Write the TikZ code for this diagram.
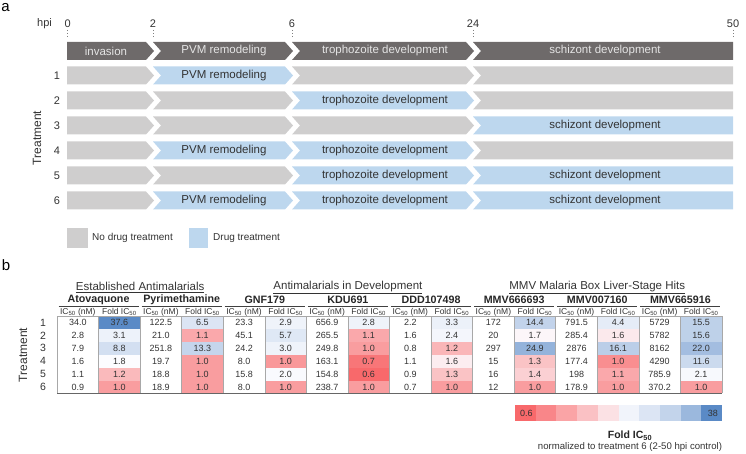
\documentclass[tikz,border=0pt]{standalone}
\usepackage{fontspec}
\setmainfont{Liberation Sans}
\definecolor{dk}{HTML}{6E6A6A}
\definecolor{lg}{HTML}{CFCECE}
\definecolor{lb}{HTML}{BDD7EE}
\definecolor{txt}{HTML}{333333}
\definecolor{cmin}{HTML}{F8696B}
\definecolor{cmid}{HTML}{FCFCFF}
\definecolor{cmax}{HTML}{5A8AC6}
\definecolor{gridc}{HTML}{A8A8A8}
\newcommand\chevF[4]{\fill[#4] (#1,{#3-9}) -- ({#2-7},{#3-9}) -- ({#2+1},#3) -- ({#2-7},{#3+9}) -- (#1,{#3+9}) -- cycle;}
\newcommand\chevM[4]{\fill[#4] (#1,{#3-9}) -- ({#2-7},{#3-9}) -- ({#2+1},#3) -- ({#2-7},{#3+9}) -- (#1,{#3+9}) -- ({#1+8},#3) -- cycle;}
\newcommand\chevL[4]{\fill[#4] (#1,{#3-9}) -- (#2,{#3-9}) -- (#2,{#3+9}) -- (#1,{#3+9}) -- ({#1+8},#3) -- cycle;}
\newcommand\colw{41.56}
\newcommand\rowh{12.9}
\newcommand\cmpdcol[2]{%
 \foreach \r/\ic/\fd/\s/\p in {#2}{%
   \pgfmathsetmacro\yt{316+(\r-1)*\rowh}%
   \pgfmathsetmacro\xa{57+(2*#1-2)*\colw}%
   \pgfmathsetmacro\xb{\xa+\colw}%
   \fill[\s!\p!cmid] (\xb,\yt) rectangle ++(\colw,\rowh);
   \node[num] (ic#1-\r) at ({\xa+\colw/2},{\yt+\rowh/2+0.3}) {\ic};
   \node[num] (fd#1-\r) at ({\xb+\colw/2},{\yt+\rowh/2+0.3}) {\fd};
 }}
\tikzset{
  tl/.style={font=\fontsize{11.5}{13}\selectfont, text=txt, inner sep=0pt},
  tlh/.style={tl, text=white!90!black},
  num/.style={font=\fontsize{9}{10}\selectfont, text=txt, inner sep=0pt},
  colhd/.style={font=\fontsize{8.5}{9}\selectfont, text=txt, inner sep=0pt},
  cmpd/.style={font=\bfseries\fontsize{10.7}{12}\selectfont, text=black!85, inner sep=0pt},
  grp/.style={font=\fontsize{11.5}{13}\selectfont, text=txt, inner sep=0pt},
  ticklbl/.style={font=\fontsize{11}{12}\selectfont, text=txt, inner sep=0pt},
  tickln/.style={draw=gray, dash pattern=on 1.5pt off 1.5pt, line width=0.7pt},
  panel/.style={font=\fontsize{15}{16}\selectfont, text=black, inner sep=0pt},
  legtxt/.style={font=\fontsize{10}{12}\selectfont, text=txt, inner sep=0pt, anchor=west},
  gridln/.style={draw=gridc, line width=0.6pt},
  ul/.style={draw=black!75, line width=0.8pt}
}
\begin{document}
\begin{tikzpicture}[x=1pt,y=-1pt]
\useasboundingbox (0,0) rectangle (746,454);
% ---------- panel a ----------
\node[panel] (pa) at (5.5,8) {a};
\node[ticklbl] (hpi) at (44.5,24) {hpi};
\node[ticklbl] (t0) at (67.7,24) {0};
\node[ticklbl] (t2) at (153,24) {2};
\node[ticklbl] (t6) at (292,24) {6};
\node[ticklbl] (t24) at (473,24) {24};
\node[ticklbl] (t50) at (733,24) {50};
\foreach \x in {67.7,153,292,473,733} \draw[tickln] (\x,30) -- (\x,38);
% header bar
\chevF{67}{153}{51}{dk}
\chevM{153}{292}{51}{dk}
\chevM{292}{473}{51}{dk}
\chevL{473}{733}{51}{dk}
\node[tlh] (h1) at (106,51) {invasion};
\node[tlh] (h2) at (224,51) {PVM remodeling};
\node[tlh] (h3) at (385,51) {trophozoite development};
\node[tlh] (h4) at (605,51) {schizont development};
% treatment rows: pattern of seg2/seg3/seg4 blue flags
\foreach \k/\a/\b/\c in {1/1/0/0, 2/0/1/0, 3/0/0/1, 4/1/1/0, 5/0/1/1, 6/1/1/1}{
  \pgfmathsetmacro\yc{75.5+(\k-1)*25}
  \chevF{67}{153}{\yc}{lg}
  \ifnum\a=1 \chevM{153}{292}{\yc}{lb} \node[tl] (r\k p) at (224,\yc) {PVM remodeling}; \else \chevM{153}{292}{\yc}{lg} \fi
  \ifnum\b=1 \chevM{292}{473}{\yc}{lb} \node[tl] (r\k t) at (385,\yc) {trophozoite development}; \else \chevM{292}{473}{\yc}{lg} \fi
  \ifnum\c=1 \chevL{473}{733}{\yc}{lb} \node[tl] (r\k s) at (605,\yc) {schizont development}; \else \chevL{473}{733}{\yc}{lg} \fi
  \node[ticklbl] (rn\k) at (57,\yc) {\k};
}
\node[font=\fontsize{12}{13}\selectfont, text=txt, rotate=90, inner sep=0pt] (treatA) at (37,138) {Treatment};
% legend
\fill[lg] (67,228) rectangle (88,248);
\node[legtxt] (leg1) at (92,238) {No drug treatment};
\fill[lb] (189,228) rectangle (208,248);
\node[legtxt] (leg2) at (213,238) {Drug treatment};
% ---------- panel b ----------
\node[panel] (pb) at (6,265) {b};
\node[grp] (g1) at ({57+2*\colw},287.5) {\underline{Established Antimalarials}};
\node[grp] (g2) at ({57+7*\colw},287.5) {\underline{Antimalarials in Development}};
\node[grp] (g3) at ({57+13*\colw},287.5) {\underline{MMV Malaria Box Liver-Stage Hits}};
\foreach \k/\nm in {1/Atovaquone, 2/Pyrimethamine, 3/GNF179, 4/KDU691, 5/DDD107498, 6/MMV666693, 7/MMV007160, 8/MMV665916}{
  \pgfmathsetmacro\xl{57+(2*\k-2)*\colw}
  \node[cmpd] (c\k) at ({\xl+\colw},300) {\nm};
  \draw[ul] ({\xl+1.5},306.5) -- ({\xl+2*\colw-1.5},306.5);
  \node[colhd] (hi\k) at ({\xl+\colw/2},312) {IC\textsubscript{50} (nM)};
  \node[colhd] (hf\k) at ({\xl+1.5*\colw},312) {Fold IC\textsubscript{50}};
}
\cmpdcol{1}{1/34.0/37.6/cmax/100, 2/2.8/3.1/cmax/9, 3/7.9/8.8/cmax/25, 4/1.6/1.8/cmax/0, 5/1.1/1.2/cmin/45, 6/0.9/1.0/cmin/65}
\cmpdcol{2}{1/122.5/6.5/cmax/20, 2/21.0/1.1/cmin/57, 3/251.8/13.3/cmax/34, 4/19.7/1.0/cmin/65, 5/18.8/1.0/cmin/65, 6/18.9/1.0/cmin/65}
\cmpdcol{3}{1/23.3/2.9/cmax/8, 2/45.1/5.7/cmax/18, 3/24.2/3.0/cmax/8, 4/8.0/1.0/cmin/68, 5/15.8/2.0/cmax/2, 6/8.0/1.0/cmin/65}
\cmpdcol{4}{1/656.9/2.8/cmax/8, 2/265.5/1.1/cmin/57, 3/249.8/1.0/cmin/65, 4/163.1/0.7/cmin/91, 5/154.8/0.6/cmin/100, 6/238.7/1.0/cmin/65}
\cmpdcol{5}{1/2.2/3.3/cmax/10, 2/1.6/2.4/cmax/5, 3/0.8/1.2/cmin/48, 4/1.1/1.6/cmin/10, 5/0.9/1.3/cmin/39, 6/0.7/1.0/cmin/65}
\cmpdcol{6}{1/172/14.4/cmax/36, 2/20/1.7/cmin/4, 3/297/24.9/cmax/64, 4/15/1.3/cmin/39, 5/16/1.4/cmin/30, 6/12/1.0/cmin/65}
\cmpdcol{7}{1/791.5/4.4/cmax/14, 2/285.4/1.6/cmin/13, 3/2876/16.1/cmax/40, 4/177.4/1.0/cmin/75, 5/198/1.1/cmin/57, 6/178.9/1.0/cmin/65}
\cmpdcol{8}{1/5729/15.5/cmax/38, 2/5782/15.6/cmax/38, 3/8162/22.0/cmax/55, 4/4290/11.6/cmax/30, 5/785.9/2.1/cmax/3, 6/370.2/1.0/cmin/65}
\pgfmathsetmacro\tbot{316+6*\rowh}
\pgfmathsetmacro\tright{57+16*\colw}
\foreach \i in {0,...,16} \draw[gridln] ({57+\i*\colw},316) -- ({57+\i*\colw},\tbot);
\draw[gridln] (57,316) -- (\tright,316);
\draw[draw=black!60, line width=0.8pt] (57,\tbot) -- (\tright,\tbot);
\foreach \k in {1,...,6}{
  \node[font=\fontsize{10.5}{12}\selectfont, text=txt, inner sep=0pt] (tn\k) at (43,{316+(\k-0.5)*\rowh}) {\k};
}
\node[font=\fontsize{12}{13}\selectfont, text=txt, rotate=90, inner sep=0pt] (treatB) at (23,355) {Treatment};
% colour bar
\foreach \i/\s/\p in {0/cmin/100, 1/cmin/80, 2/cmin/60, 3/cmin/40, 4/cmin/18, 5/cmax/7, 6/cmax/20, 7/cmax/35, 8/cmax/60, 9/cmax/100}{
  \fill[\s!\p!cmid] ({515+\i*20.7},405) rectangle ++(20.7,16);
}
\node[num, anchor=west] (cb0) at (520,413) {0.6};
\node[num, anchor=east] (cb1) at (718,413) {38};
\node[font=\bfseries\fontsize{10.5}{12}\selectfont, text=black!85, inner sep=0pt] (cbt) at (630,435.5) {Fold IC\textsubscript{50}};
\node[font=\fontsize{9.6}{11}\selectfont, text=txt, inner sep=0pt] (cbs) at (630,447) {normalized to treatment 6 (2-50 hpi control)};
\end{tikzpicture}
\end{document}
